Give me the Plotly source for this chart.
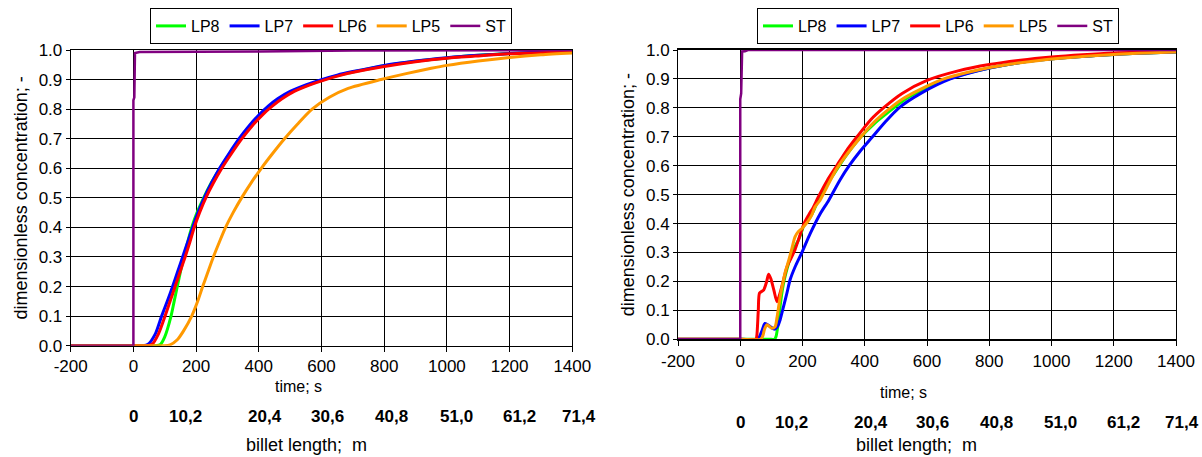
import plotly.graph_objects as go

# ---------------- data ----------------
series_names = ["LP8", "LP7", "LP6", "LP5", "ST"]
series_colors = ["#00FF00", "#0000FF", "#FF0000", "#FF9900", "#800080"]

x_ticks = [-200, 0, 200, 400, 600, 800, 1000, 1200, 1400]
x_tick_labels = ["-200", "0", "200", "400", "600", "800", "1000", "1200", "1400"]
y_ticks = [0.0, 0.1, 0.2, 0.3, 0.4, 0.5, 0.6, 0.7, 0.8, 0.9, 1.0]

billet_labels = ["0", "10,2", "20,4", "30,6", "40,8", "51,0", "61,2", "71,4"]
billet_pos = [0, 165, 420, 618, 822, 1030, 1230, 1420]

# left chart
L_LP8_t = [-200, 0, 70, 85, 100, 120, 130, 140, 150, 161, 173, 186, 203, 224, 248, 276, 307, 340, 373, 404, 436, 467, 507, 557, 607, 657, 707, 800, 900, 1000, 1100, 1200, 1300, 1400]
L_LP8_c = [0, 0, 0, 0.003, 0.03, 0.1, 0.15, 0.2, 0.25, 0.3, 0.35, 0.4, 0.45, 0.5, 0.55, 0.6, 0.65, 0.7, 0.745, 0.78, 0.81, 0.835, 0.86, 0.882, 0.9, 0.915, 0.927, 0.947, 0.962, 0.973, 0.982, 0.988, 0.992, 0.996]

L_LP7_t = [-200, 0, 30, 47, 70, 90, 108, 125, 141, 157, 173, 189, 206, 226, 249, 275, 305, 337, 370, 400, 430, 460, 500, 550, 600, 650, 700, 800, 900, 1000, 1100, 1200, 1300, 1400]
L_LP7_c = [0, 0, 0, 0.005, 0.04, 0.1, 0.15, 0.2, 0.25, 0.3, 0.35, 0.4, 0.45, 0.5, 0.55, 0.6, 0.65, 0.7, 0.745, 0.78, 0.81, 0.835, 0.86, 0.882, 0.9, 0.915, 0.927, 0.948, 0.963, 0.974, 0.982, 0.988, 0.993, 0.996]

L_LP6_t = [-200, 0, 40, 60, 80, 101, 117, 133, 149, 165, 180, 194, 211, 231, 255, 282, 313, 346, 380, 411, 443, 474, 513, 563, 613, 663, 713, 800, 900, 1000, 1100, 1200, 1300, 1400]
L_LP6_c = [0, 0, 0, 0.005, 0.04, 0.1, 0.15, 0.2, 0.25, 0.3, 0.35, 0.4, 0.45, 0.5, 0.55, 0.6, 0.65, 0.7, 0.745, 0.78, 0.81, 0.835, 0.86, 0.882, 0.9, 0.915, 0.927, 0.944, 0.96, 0.972, 0.98, 0.987, 0.991, 0.995]

L_LP5_t = [-200, 0, 100, 117, 140, 160, 186, 205, 221, 238, 255, 274, 294, 318, 345, 375, 408, 444, 482, 524, 570, 625, 685, 790, 870, 950, 1000, 1100, 1200, 1300, 1400]
L_LP5_c = [0, 0, 0, 0.003, 0.02, 0.05, 0.1, 0.15, 0.2, 0.25, 0.3, 0.35, 0.4, 0.45, 0.5, 0.55, 0.6, 0.65, 0.7, 0.75, 0.8, 0.84, 0.87, 0.9, 0.92, 0.938, 0.948, 0.963, 0.975, 0.984, 0.99]

L_ST_t = [-200, 0, 0, 3, 5, 20, 400, 700, 1400]
L_ST_c = [0, 0, 0.83, 0.84, 0.99, 0.993, 0.995, 0.998, 1.0]

# right chart
R_LP8_t = [-200, 0, 100, 110, 115, 120, 123, 128, 133, 139, 147, 155, 163, 171, 179, 187, 195, 203, 214, 225, 236, 246, 270, 300, 340, 388, 430, 470, 530, 600, 670, 760, 860, 960, 1060, 1160, 1260, 1400]
R_LP8_c = [0, 0, 0, 0, 0.01, 0.04, 0.067, 0.113, 0.155, 0.193, 0.23, 0.262, 0.29, 0.31, 0.327, 0.343, 0.365, 0.39, 0.407, 0.423, 0.445, 0.47, 0.52, 0.57, 0.635, 0.7, 0.745, 0.78, 0.83, 0.87, 0.9, 0.928, 0.95, 0.965, 0.975, 0.982, 0.988, 0.993]

R_LP7_t = [-200, 0, 55, 60, 70, 79, 88, 96, 104, 112, 120, 128, 139, 150, 160, 176, 198, 225, 257, 284, 320, 350, 385, 425, 465, 510, 580, 675, 770, 860, 960, 1060, 1160, 1260, 1400]
R_LP7_c = [0, 0, 0, 0.005, 0.03, 0.055, 0.05, 0.044, 0.038, 0.035, 0.045, 0.067, 0.113, 0.16, 0.205, 0.25, 0.3, 0.366, 0.434, 0.48, 0.55, 0.6, 0.65, 0.7, 0.75, 0.8, 0.85, 0.9, 0.93, 0.95, 0.965, 0.975, 0.982, 0.988, 0.993]

R_LP6_t = [-200, 0, 50, 53, 58, 62, 75, 85, 91, 98, 108, 118, 128, 139, 150, 163, 176, 190, 205, 220, 235, 250, 280, 310, 340, 375, 420, 460, 520, 600, 700, 800, 900, 1000, 1100, 1200, 1300, 1400]
R_LP6_c = [0, 0, 0, 0.01, 0.1, 0.16, 0.17, 0.2, 0.225, 0.21, 0.17, 0.13, 0.16, 0.205, 0.25, 0.28, 0.31, 0.354, 0.4, 0.43, 0.457, 0.49, 0.55, 0.6, 0.65, 0.7, 0.76, 0.8, 0.85, 0.895, 0.928, 0.95, 0.965, 0.976, 0.984, 0.99, 0.993, 0.995]

R_LP5_t = [-200, 0, 65, 72, 78, 85, 93, 101, 112, 118, 123, 128, 134, 144, 155, 165, 176, 187, 198, 208, 219, 230, 240, 256, 280, 310, 350, 388, 420, 460, 520, 580, 654, 760, 860, 960, 1060, 1160, 1260, 1400]
R_LP5_c = [0, 0, 0, 0.01, 0.035, 0.05, 0.045, 0.038, 0.044, 0.075, 0.11, 0.145, 0.18, 0.23, 0.27, 0.31, 0.354, 0.373, 0.383, 0.395, 0.41, 0.43, 0.457, 0.48, 0.53, 0.59, 0.65, 0.7, 0.74, 0.78, 0.83, 0.865, 0.9, 0.93, 0.95, 0.964, 0.974, 0.982, 0.988, 0.993]

R_ST_t = [-200, 0, 0, 3, 6, 15, 25, 1400]
R_ST_c = [0, 0, 0.83, 0.85, 0.995, 0.996, 1.0, 1.0]

left_data = [(L_LP8_t, L_LP8_c), (L_LP7_t, L_LP7_c), (L_LP6_t, L_LP6_c), (L_LP5_t, L_LP5_c), (L_ST_t, L_ST_c)]
right_data = [(R_LP8_t, R_LP8_c), (R_LP7_t, R_LP7_c), (R_LP6_t, R_LP6_c), (R_LP5_t, R_LP5_c), (R_ST_t, R_ST_c)]

# ---------------- figure ----------------
W, H = 1202, 457
FONT = "Liberation Sans, Arial, sans-serif"
fig = go.Figure()

def line_style(i):
    if i < 4:
        return dict(color=series_colors[i], width=3, shape="spline", smoothing=0.7)
    return dict(color=series_colors[i], width=2.5, shape="linear")

for i, (t, c) in enumerate(left_data):
    fig.add_trace(go.Scatter(x=t, y=c, mode="lines", name=series_names[i],
                             line=line_style(i), xaxis="x", yaxis="y", legend="legend"))
for i, (t, c) in enumerate(right_data):
    fig.add_trace(go.Scatter(x=t, y=c, mode="lines", name=series_names[i],
                             line=line_style(i), xaxis="x2", yaxis="y2", legend="legend2"))

TICK = 17

def xax(domain, anchor, lw):
    return dict(domain=domain, anchor=anchor, range=[-200, 1400], tickvals=x_ticks,
                ticktext=x_tick_labels, automargin=False,
                showgrid=True, gridcolor="#000000", gridwidth=1, zeroline=False,
                showline=True, linecolor="#000000", linewidth=lw, mirror=True,
                ticks="outside", ticklen=5, tickcolor="#000000",
                tickfont=dict(size=TICK, color="#000000", family=FONT))

def yax(domain, anchor):
    return dict(domain=domain, anchor=anchor, range=[0, 1], tickvals=y_ticks,
                tickformat=".1f", automargin=False,
                showgrid=True, gridcolor="#000000", gridwidth=1,
                zeroline=False, showline=True, linecolor="#000000", linewidth=1,
                mirror=True, ticks="outside", ticklen=4, tickcolor="#000000",
                tickfont=dict(size=TICK, color="#000000", family=FONT),
                title=dict(text="dimensionless concentration; -", standoff=6,
                           font=dict(size=18, color="#000000", family=FONT)))

legend_common = dict(orientation="h", bordercolor="#000000", borderwidth=1,
                     bgcolor="#FFFFFF", font=dict(size=16, color="#000000", family=FONT),
                     xanchor="left", yanchor="top", itemwidth=30, tracegroupgap=0)

px_per_unit = {"x": (572.3 - 70.7) / 1600.0, "x2": (1176 - 678) / 1600.0}

annotations = []
for ax_x, ypix_time, xpix_time, ypix_bold, ypix_bl, xpix_bl, blsize in [
        ("x", 386, 298, 416, 445, 306, 18), ("x2", 392, 903, 422, 445, 916, 18)]:
    annotations.append(dict(text="time; s", xref="paper", yref="paper",
                            x=xpix_time / W, y=1 - ypix_time / H, showarrow=False,
                            xanchor="center", yanchor="middle",
                            font=dict(size=16, color="#000000", family=FONT)))
    for lab, pos in zip(billet_labels, billet_pos):
        xs = 0
        xv = pos
        if pos > 1400:
            xs = (pos - 1400) * px_per_unit[ax_x]
            xv = 1400
        annotations.append(dict(text="<b>%s</b>" % lab, xref=ax_x, yref="paper",
                                x=xv, xshift=xs, y=1 - ypix_bold / H, showarrow=False,
                                xanchor="center", yanchor="middle",
                                font=dict(size=17, color="#000000", family=FONT)))
    annotations.append(dict(text="billet length;  m", xref="paper", yref="paper",
                            x=xpix_bl / W, y=1 - ypix_bl / H, showarrow=False,
                            xanchor="center", yanchor="middle",
                            font=dict(size=blsize, color="#000000", family=FONT)))

fig.update_layout(
    width=W, height=H, margin=dict(l=0, r=0, t=0, b=0, autoexpand=False),
    paper_bgcolor="#FFFFFF", plot_bgcolor="#FFFFFF",
    font=dict(family=FONT, color="#000000"),
    xaxis=xax([70.7 / W, 572.3 / W], "y", 1),
    yaxis=yax([1 - 345.7 / H, 1 - 50 / H], "x"),
    xaxis2=xax([678 / W, 1176 / W], "y2", 2),
    yaxis2=yax([1 - 339.3 / H, 1 - 50 / H], "x2"),
    legend=dict(x=150 / W, y=1 - 8 / H, **legend_common),
    legend2=dict(x=757 / W, y=1 - 8 / H, **legend_common),
    annotations=annotations,
)

fig.write_html("out.html")
